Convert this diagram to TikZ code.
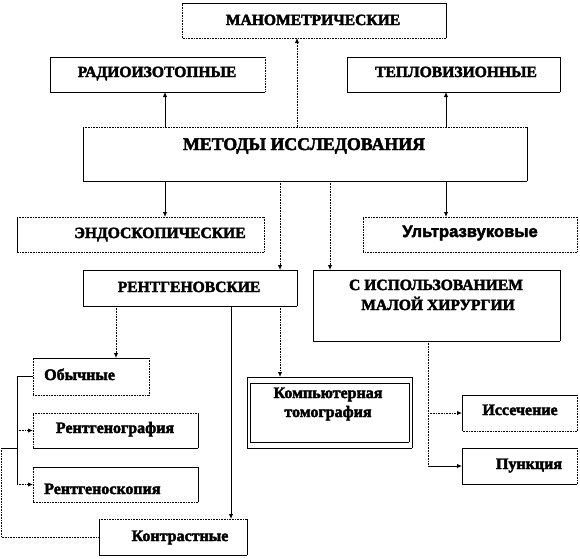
\documentclass[tikz,border=0pt]{standalone}
\usepackage{fontspec}
\setmainfont{Liberation Serif}[BoldFeatures={FakeBold=2.5}]
\newfontfamily\sansb{Liberation Sans}[BoldFeatures={FakeBold=2.5}]
\usetikzlibrary{arrows.meta}
\tikzset{
  bx/.style={draw=none, inner sep=0pt, outer sep=0pt},
  sl/.style={line width=1pt},
  dt/.style={line width=1pt, dash pattern=on 0.8pt off 0.8pt},
  arr/.style={-{Latex[length=5pt,width=4.5pt]}},
  uptxt/.style={font=\bfseries\fontsize{15.6}{17}\selectfont, inner sep=0pt, anchor=base},
  bigtxt/.style={font=\bfseries\fontsize{17.8}{19}\selectfont, inner sep=0pt, anchor=base},
  lowtxt/.style={font=\bfseries\fontsize{16}{18}\selectfont, inner sep=0pt, anchor=base},
}
\newcommand\frm[5]{%
  \draw[#2] (#1.north west) -- (#1.north east);
  \draw[#3] (#1.north east) -- (#1.south east);
  \draw[#4] (#1.south east) -- (#1.south west);
  \draw[#5] (#1.south west) -- (#1.north west);}
\begin{document}
\begin{tikzpicture}[x=1pt,y=-1pt]
\useasboundingbox (0,0) rectangle (580,558);
% boxes
\node[bx, minimum width=264pt, minimum height=35pt] (man) at (314,20.5) {};
\node[bx, minimum width=215pt, minimum height=35pt] (rad) at (157.5,74.5) {};
\node[bx, minimum width=213pt, minimum height=35pt] (tep) at (453.5,74.5) {};
\node[bx, minimum width=444pt, minimum height=54pt] (met) at (305,154) {};
\node[bx, minimum width=247pt, minimum height=35pt] (endo) at (140.5,234.5) {};
\node[bx, minimum width=214pt, minimum height=35pt] (ultra) at (470,234.5) {};
\node[bx, minimum width=214pt, minimum height=36pt] (rent) at (190,288) {};
\node[bx, minimum width=247pt, minimum height=71pt] (hir) at (436.5,305.5) {};
\node[bx, minimum width=116pt, minimum height=37pt] (obych) at (91,376.5) {};
\node[bx, minimum width=165pt, minimum height=35pt] (rgr) at (115.5,430.5) {};
\node[bx, minimum width=165pt, minimum height=35pt] (rsk) at (115.5,484.5) {};
\node[bx, minimum width=148pt, minimum height=36pt] (kontr) at (173,537) {};
\node[bx, minimum width=165pt, minimum height=71pt] (komp) at (329.5,412.5) {};
\node[bx, minimum width=159pt, minimum height=59pt] (kompi) at (329.5,412.5) {};
\node[bx, minimum width=115pt, minimum height=36pt] (iss) at (519.5,413) {};
\node[bx, minimum width=115pt, minimum height=36pt] (punk) at (519.5,466) {};
% frames
\frm{man}{sl}{sl}{dt}{dt}
\frm{rad}{sl}{dt}{sl}{sl}
\frm{tep}{sl}{sl}{sl}{sl}
\frm{met}{dt}{sl}{sl}{sl}
\frm{endo}{dt}{dt}{dt}{sl}
\frm{ultra}{dt}{dt}{dt}{dt}
\frm{rent}{sl}{sl}{sl}{sl}
\frm{hir}{sl}{sl}{sl}{sl}
\frm{obych}{sl}{dt}{dt}{dt}
\frm{rgr}{dt}{sl}{sl}{dt}
\frm{rsk}{sl}{sl}{dt}{dt}
\frm{kontr}{dt}{sl}{sl}{sl}
\frm{komp}{sl}{sl}{sl}{sl}
\frm{kompi}{sl}{sl}{sl}{sl}
\frm{iss}{sl}{dt}{dt}{sl}
\frm{punk}{sl}{dt}{sl}{sl}
% texts
\node[uptxt] (tman) at (313,25) {МАНОМЕТРИЧЕСКИЕ};
\node[uptxt] (trad) at (157,77) {РАДИОИЗОТОПНЫЕ};
\node[uptxt] (ttep) at (456,77) {ТЕПЛОВИЗИОННЫЕ};
\node[bigtxt] (tmet) at (304,150) {МЕТОДЫ ИССЛЕДОВАНИЯ};
\node[uptxt] (tendo) at (160,238) {ЭНДОСКОПИЧЕСКИЕ};
\node[lowtxt, font=\sansb\bfseries\fontsize{16.6}{18}\selectfont] (tultra) at (470,237) {Ультразвуковые};
\node[uptxt] (trent) at (189,292) {РЕНТГЕНОВСКИЕ};
\node[uptxt] (thir1) at (436,290) {С ИСПОЛЬЗОВАНИЕМ};
\node[uptxt] (thir2) at (438,310) {МАЛОЙ ХИРУРГИИ};
\node[lowtxt, anchor=base west] (tobych) at (44,380) {Обычные};
\node[lowtxt] (trgr) at (115,433) {Рентгенография};
\node[lowtxt, anchor=base west] (trsk) at (44,494) {Рентгеноскопия};
\node[lowtxt] (tkontr) at (180,541) {Контрастные};
\node[lowtxt] (tkomp1) at (328,398) {Компьютерная};
\node[lowtxt] (tkomp2) at (328,417) {томография};
\node[lowtxt] (tiss) at (520,415) {Иссечение};
\node[lowtxt] (tpunk) at (529,469) {Пункция};
% helper x positions
\coordinate (x1) at (1,0);
\coordinate (x17) at (17,0);
\coordinate (x116) at (116,0);
\coordinate (x165) at (165,0);
\coordinate (x231) at (231,0);
\coordinate (x280) at (280,0);
\coordinate (x297) at (297,0);
\coordinate (x330) at (330,0);
\coordinate (x428) at (428,0);
\coordinate (x446) at (446,0);
\coordinate (j) at (17,448);
% connectors
\draw[sl,arr] (met.north -| x165) -- (rad.south -| x165);
\draw[dt,arr] (met.north -| x297) -- (man.south -| x297);
\draw[sl,arr] (met.north -| x446) -- (tep.south -| x446);
\draw[sl,arr] (met.south -| x165) -- (endo.north -| x165);
\draw[dt,arr] (met.south -| x280) -- (rent.north -| x280);
\draw[dt,arr] (met.south -| x330) -- (hir.north -| x330);
\draw[sl,arr] (met.south -| x446) -- (ultra.north -| x446);
\draw[dt,arr] (rent.south -| x116) -- (obych.north -| x116);
\draw[sl,arr] (rent.south -| x231) -- (kontr.north -| x231);
\draw[dt,arr] (rent.south -| x280) -- (komp.north -| x280);
\draw[sl] (obych.west) -- (obych.west -| x17) -- (rsk.west -| x17);
\draw[dt,arr] (rgr.west -| x17) -- (rgr.west);
\draw[dt,arr] (rsk.west -| x17) -- (rsk.west);
\draw[sl] (j) -- (j -| x1);
\draw[dt] (j -| x1) -- (kontr.west -| x1) -- (kontr.west);
\draw[dt] (hir.south -| x428) -- (punk.west -| x428);
\draw[dt,arr] (iss.west -| x428) -- (iss.west);
\draw[sl,arr] (punk.west -| x428) -- (punk.west);
\end{tikzpicture}
\end{document}
